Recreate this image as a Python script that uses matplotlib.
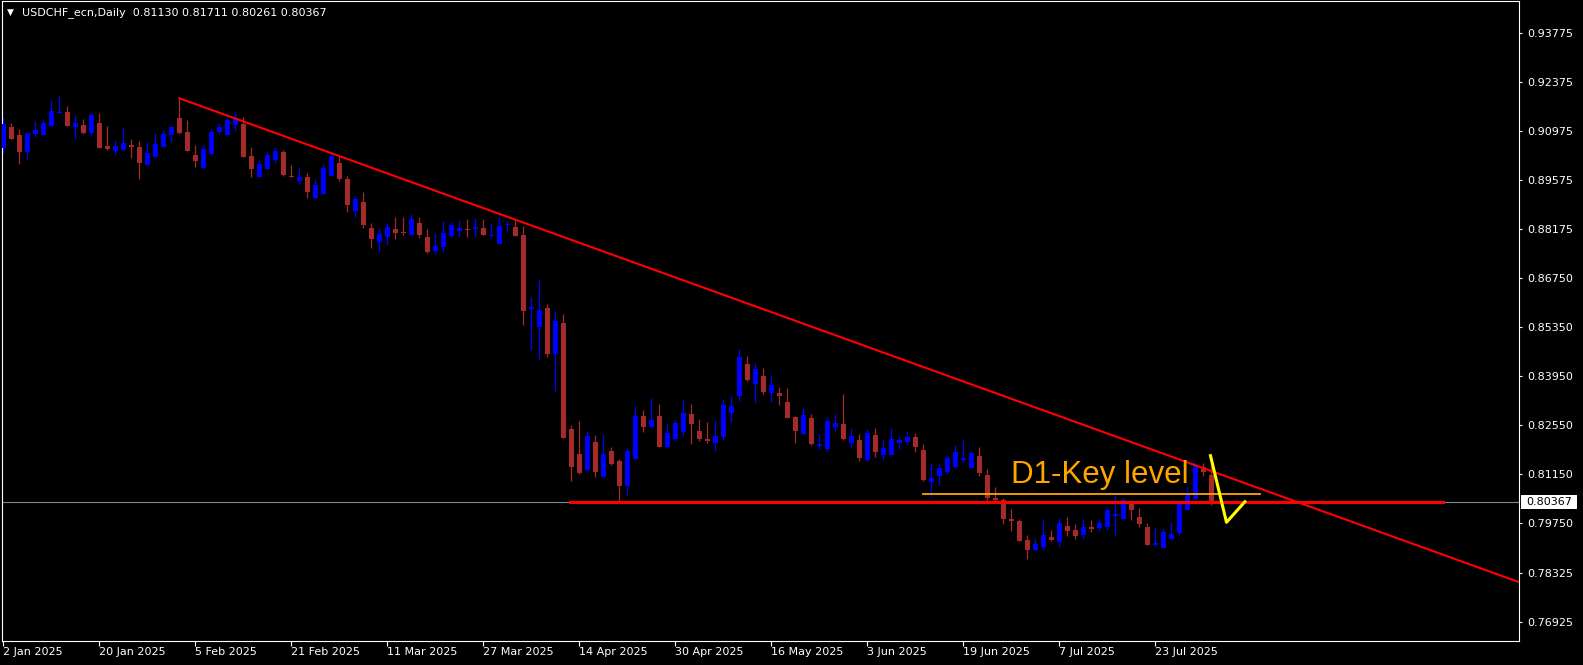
import numpy as np
import pandas as pd
import matplotlib
matplotlib.use("Agg")
import matplotlib.pyplot as plt
from matplotlib.patches import Rectangle
from matplotlib.transforms import blended_transform_factory

W, H = 1583, 665

# daily USDCHF candles, first bar 2 Jan 2025
start_date = "2025-01-02"
opens = [
    0.90486, 0.91077, 0.90849, 0.90371, 0.90886, 0.90857, 0.91115, 0.91478, 0.91506, 0.91077,
    0.91135, 0.90914, 0.91192, 0.90534, 0.90400, 0.90429, 0.90563, 0.90506, 0.90000, 0.90229,
    0.90514, 0.90849, 0.91335, 0.90934, 0.90277, 0.89914, 0.90314, 0.90943, 0.90849, 0.91135,
    0.91163, 0.90249, 0.89648, 0.89877, 0.90134, 0.90371, 0.89677, 0.89543, 0.89648, 0.89057,
    0.89171, 0.89685, 0.90057, 0.89591, 0.88677, 0.88934, 0.88191, 0.87799, 0.87942, 0.88162,
    0.88076, 0.87999, 0.88334, 0.87934, 0.87542, 0.87656, 0.87971, 0.88105, 0.88162, 0.88171,
    0.88199, 0.87954, 0.87742, 0.88268, 0.88219, 0.87999, 0.85884, 0.85370, 0.85913, 0.84598,
    0.85484, 0.82438, 0.81732, 0.81283, 0.82075, 0.81083, 0.81817, 0.81532, 0.80826, 0.81597,
    0.82818, 0.82503, 0.82818, 0.81940, 0.82169, 0.82369, 0.82875, 0.82389, 0.82160, 0.82046,
    0.82226, 0.82904, 0.83398, 0.84313, 0.83741, 0.83961, 0.83484, 0.83475, 0.83226, 0.82789,
    0.82312, 0.82761, 0.81969, 0.81875, 0.82503, 0.82589, 0.82046, 0.82132, 0.81560, 0.82275,
    0.81703, 0.81703, 0.82046, 0.82083, 0.82218, 0.81846, 0.80940, 0.81112, 0.81226, 0.81360,
    0.81560, 0.81340, 0.81675, 0.81132, 0.80483, 0.80417, 0.79874, 0.79817, 0.79274, 0.78988,
    0.79074, 0.79360, 0.79225, 0.79674, 0.79560, 0.79425, 0.79645, 0.79617, 0.79645, 0.79960,
    0.79874, 0.80360, 0.79931, 0.79645, 0.79131, 0.79045, 0.79302, 0.79474, 0.80131, 0.80446,
    0.81352, 0.81130,
]
highs = [
    0.91355, 0.91200, 0.91020, 0.90906, 0.91249, 0.91269, 0.91849, 0.91963, 0.91669, 0.91420,
    0.91306, 0.91469, 0.91478, 0.91106, 0.90697, 0.91049, 0.90734, 0.90677, 0.90649, 0.90897,
    0.90983, 0.91106, 0.91898, 0.91277, 0.90563, 0.90563, 0.91012, 0.91183, 0.91355, 0.91515,
    0.91372, 0.90514, 0.90134, 0.90371, 0.90497, 0.90420, 0.89991, 0.89943, 0.89754, 0.89591,
    0.90020, 0.90326, 0.90249, 0.89685, 0.89105, 0.89228, 0.88342, 0.88199, 0.88325, 0.88497,
    0.88514, 0.88591, 0.88514, 0.88162, 0.88056, 0.88391, 0.88362, 0.88419, 0.88457, 0.88485,
    0.88457, 0.88314, 0.88514, 0.88391, 0.88411, 0.88248, 0.86219, 0.86713, 0.86027, 0.85819,
    0.85733, 0.82561, 0.82675, 0.82389, 0.82275, 0.82303, 0.81932, 0.81589, 0.81903, 0.83104,
    0.82989, 0.83332, 0.83161, 0.82609, 0.82703, 0.83304, 0.83161, 0.82732, 0.82646, 0.82703,
    0.83304, 0.83398, 0.84733, 0.84533, 0.84333, 0.84190, 0.83990, 0.83647, 0.83618, 0.82818,
    0.83046, 0.82875, 0.82303, 0.82781, 0.82884, 0.83447, 0.82475, 0.82303, 0.82438, 0.82475,
    0.82132, 0.82475, 0.82246, 0.82389, 0.82332, 0.82018, 0.81475, 0.81446, 0.81703, 0.81989,
    0.82132, 0.81817, 0.81932, 0.81303, 0.80789, 0.80474, 0.80160, 0.79874, 0.79417, 0.79302,
    0.79845, 0.79560, 0.79903, 0.79931, 0.79731, 0.79874, 0.79845, 0.79845, 0.80217, 0.80560,
    0.80466, 0.80417, 0.80180, 0.79751, 0.79608, 0.79588, 0.79788, 0.80323, 0.80780, 0.81495,
    0.81466, 0.81711,
]
lows = [
    0.90343, 0.90726, 0.90029, 0.90171, 0.90800, 0.90849, 0.91086, 0.91469, 0.91100, 0.90743,
    0.90869, 0.90840, 0.90470, 0.90429, 0.90268, 0.90400, 0.90200, 0.89600, 0.89990, 0.90215,
    0.90500, 0.90657, 0.90869, 0.90390, 0.89943, 0.89905, 0.90305, 0.90877, 0.90840, 0.90972,
    0.90220, 0.89657, 0.89640, 0.89870, 0.90040, 0.89685, 0.89640, 0.89485, 0.89057, 0.89050,
    0.89165, 0.89680, 0.89543, 0.88657, 0.88514, 0.88199, 0.87628, 0.87513, 0.87696, 0.87885,
    0.87982, 0.87990, 0.87914, 0.87485, 0.87456, 0.87513, 0.87925, 0.87934, 0.87934, 0.87934,
    0.87982, 0.87934, 0.87735, 0.88105, 0.87962, 0.85419, 0.84704, 0.84447, 0.84513, 0.83532,
    0.82190, 0.80969, 0.81151, 0.81254, 0.81083, 0.81075, 0.81417, 0.80388, 0.80568, 0.81590,
    0.82369, 0.82495, 0.81930, 0.81912, 0.82112, 0.82255, 0.82018, 0.82112, 0.82055, 0.81826,
    0.82140, 0.82655, 0.83255, 0.83827, 0.83198, 0.83438, 0.83226, 0.83141, 0.82760, 0.82055,
    0.82305, 0.81998, 0.81883, 0.81817, 0.82389, 0.82140, 0.81932, 0.81540, 0.81532, 0.81646,
    0.81569, 0.81695, 0.81875, 0.81998, 0.81789, 0.80960, 0.80503, 0.80846, 0.81160, 0.81340,
    0.81512, 0.81332, 0.81103, 0.80388, 0.80397, 0.79731, 0.79540, 0.79245, 0.78731, 0.78980,
    0.78985, 0.79245, 0.79074, 0.79388, 0.79302, 0.79302, 0.79511, 0.79531, 0.79560, 0.79417,
    0.79865, 0.79845, 0.79637, 0.79125, 0.79102, 0.79040, 0.79295, 0.79425, 0.80125, 0.80440,
    0.81103, 0.80261,
]
closes = [
    0.91172, 0.90743, 0.90371, 0.90906, 0.90992, 0.91192, 0.91535, 0.91506, 0.91115, 0.91192,
    0.90914, 0.91420, 0.90486, 0.90457, 0.90534, 0.90620, 0.90514, 0.90057, 0.90334, 0.90600,
    0.90886, 0.91077, 0.90914, 0.90400, 0.90114, 0.90449, 0.90934, 0.91069, 0.91277, 0.91326,
    0.90229, 0.89877, 0.90020, 0.90277, 0.90391, 0.89706, 0.89648, 0.89648, 0.89228, 0.89420,
    0.89906, 0.90257, 0.89591, 0.88857, 0.89020, 0.88285, 0.87885, 0.88019, 0.88219, 0.88056,
    0.88056, 0.88448, 0.87999, 0.87513, 0.87676, 0.88048, 0.88277, 0.88199, 0.88142, 0.88219,
    0.87999, 0.87991, 0.88257, 0.88314, 0.87971, 0.85827, 0.85933, 0.85856, 0.84598, 0.85533,
    0.82198, 0.81369, 0.81197, 0.82246, 0.81226, 0.81732, 0.81454, 0.80826, 0.81817, 0.82818,
    0.82512, 0.82712, 0.81940, 0.82323, 0.82618, 0.82904, 0.82598, 0.82169, 0.82112, 0.82246,
    0.83132, 0.83104, 0.84504, 0.83855, 0.84161, 0.83512, 0.83704, 0.83398, 0.82769, 0.82398,
    0.82846, 0.82026, 0.82018, 0.82675, 0.82618, 0.82160, 0.82246, 0.81617, 0.82332, 0.81789,
    0.81903, 0.82160, 0.82132, 0.82218, 0.81932, 0.80989, 0.81046, 0.81332, 0.81617, 0.81789,
    0.81626, 0.81760, 0.81189, 0.80483, 0.80417, 0.79874, 0.79825, 0.79254, 0.78997, 0.79160,
    0.79417, 0.79274, 0.79760, 0.79531, 0.79388, 0.79645, 0.79588, 0.79760, 0.80131, 0.80017,
    0.80417, 0.80131, 0.79731, 0.79131, 0.79188, 0.79502, 0.79445, 0.80323, 0.80560, 0.81417,
    0.81209, 0.80367,
]

price_ticks = ["0.93775", "0.92375", "0.90975", "0.89575", "0.88175", "0.86750", "0.85350",
               "0.83950", "0.82550", "0.81150", "0.79750", "0.78325", "0.76925"]
last_price = 0.80367
header = "USDCHF_ecn,Daily  0.81130 0.81711 0.80261 0.80367"

# drawn objects (bar index, price)
trend_bars = [22, 190]
trend_prices = [0.91898, 0.78025]
key_level = 0.80355
key_span = [70.9, 180.0]
orange_level = 0.80600
orange_span = [115.0, 157.1]
v_bars = [150.9, 152.9, 155.2]
v_prices = [0.81683, 0.79779, 0.80368]
label_pos = (126.0, 0.80903)

o = np.array(opens)
h = np.array(highs)
l = np.array(lows)
c = np.array(closes)
n = len(o)
x = np.arange(n)
dates = pd.bdate_range(start_date, periods=n)

fig = plt.figure(figsize=(W / 100, H / 100), dpi=100, facecolor="black")
ax = fig.add_axes([2 / W, (H - 640.7) / H, 1517.3 / W, 639.7 / H])
ax.set_facecolor("black")
ymin, ymax = 0.76396, 0.94678
ax.set_xlim(-0.16, 189.5)
ax.set_ylim(ymin, ymax)
ppx = (ymax - ymin) / 639.7

# bid line
ax.axhline(last_price, color="#778899", lw=0.8, zorder=1)

bull = c > o
colors = np.where(bull, "#0000ff", "#a52a2a")
ax.vlines(x, l, h, colors=colors, lw=0.9, zorder=2)
ax.bar(x, np.maximum(np.abs(c - o), ppx), bottom=np.minimum(o, c), width=0.625,
       color=colors, linewidth=0, zorder=3)

ax.plot(trend_bars, trend_prices, color="#ff0000", lw=1.5, zorder=5)
ax.plot(key_span, [key_level, key_level], color="#ff0000", lw=2.2, zorder=5)
ax.plot(orange_span, [orange_level, orange_level], color="#ffa500", lw=1.3, zorder=5)
ax.plot(v_bars, v_prices, color="#ffff00", lw=2.2, zorder=6)
ax.text(label_pos[0], label_pos[1], "D1-Key level", color="#ffa500", fontsize=22.5,
        family="Liberation Sans", va="baseline", ha="left", zorder=6)

for s in ax.spines.values():
    s.set_color("white")
    s.set_linewidth(0.8)

ax.yaxis.tick_right()
ax.set_yticks([float(t) for t in price_ticks])
ax.set_yticklabels(price_ticks)
ax.tick_params(axis="y", colors="white", direction="out", length=2.5, width=0.8,
               pad=3, labelsize=8)

tick_idx = list(range(0, n, 12))
ax.set_xticks(tick_idx)
ax.set_xticklabels([f"{dates[i].day} {dates[i]:%b %Y}" for i in tick_idx], ha="left")
ax.tick_params(axis="x", colors="white", direction="out", length=3.3, width=0.8,
               pad=1.5, labelsize=8)

# current price tag on the price scale
tr = blended_transform_factory(fig.transFigure, ax.transData)
ax.add_patch(Rectangle((1521 / W, last_price - 7 * ppx), 56 / W, 14 * ppx,
                       transform=tr, facecolor="white", edgecolor="none",
                       clip_on=False, zorder=10))
ax.text(1526 / W, last_price, f"{last_price:.5f}", transform=tr, color="black",
        fontsize=8, va="center", ha="left", zorder=11, clip_on=False)

fig.text(7 / W, 1 - 12 / H, "\u25bc", color="white", fontsize=6.5, va="center")
fig.text(21.5 / W, 1 - 13 / H, header, color="white", fontsize=8, va="center")

fig.savefig("out.png", dpi=100, facecolor="black")
